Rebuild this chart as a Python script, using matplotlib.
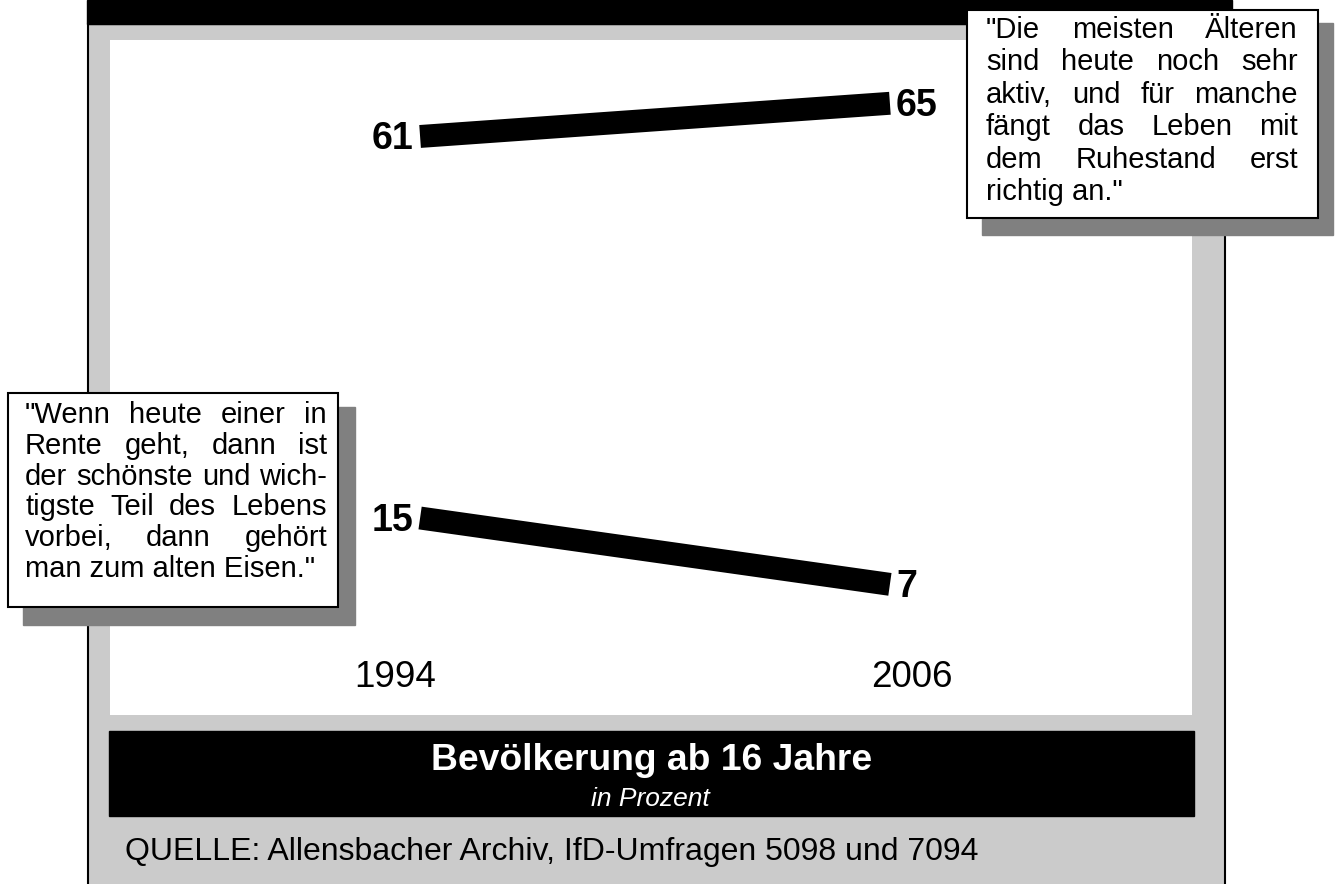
import numpy as np
import matplotlib
matplotlib.use('Agg')
from matplotlib import pyplot as plt
from matplotlib.patches import Rectangle

plt.rcParams['font.family'] = ['Liberation Sans', 'DejaVu Sans']

# Data: share of people who agree with each statement, in percent
years = ['1994', '2006']
aktiv = [61, 65]        # "Die meisten Älteren sind heute noch sehr aktiv ..."
altesEisen = [15, 7]    # "Wenn heute einer in Rente geht ..."

quoteAktiv = ['"Die meisten Älteren',
              'sind heute noch sehr',
              'aktiv, und für manche',
              'fängt das Leben mit',
              'dem Ruhestand erst',
              'richtig an."']
quoteEisen = ['"Wenn heute einer in',
              'Rente geht, dann ist',
              'der schönste und wich-',
              'tigste Teil des Lebens',
              'vorbei, dann gehört',
              'man zum alten Eisen."']

title = 'Bevölkerung ab 16 Jahre'
subtitle = 'in Prozent'
source = 'QUELLE: Allensbacher Archiv, IfD-Umfragen 5098 und 7094'

W, H = 1338, 884
fig = plt.figure(figsize=(W / 100, H / 100), dpi=100)


def pixelAxes(z):
    a = fig.add_axes([0, 0, 1, 1], zorder=z)
    a.set_xlim(0, W)
    a.set_ylim(H, 0)
    a.axis('off')
    return a


def box(a, x0, y0, x1, y1, **kw):
    a.add_patch(Rectangle((x0, y0), x1 - x0, y1 - y0, **kw))


# Frame behind the chart
bg = pixelAxes(0)
box(bg, 88, 24, 1225, H + 10, facecolor='#cbcbcb', edgecolor='black', lw=1.5)
box(bg, 87, 0, 1232, 24, color='black')
box(bg, 109, 731, 1194, 816, color='black')

# The chart itself
ax = fig.add_axes([110 / W, (H - 715) / H, (1192 - 110) / W, (715 - 40) / H], zorder=1)
ax.set_facecolor('white')
for s in ax.spines.values():
    s.set_visible(False)
ax.set_xticks([])
ax.set_yticks([])
ax.set_xlim(-0.66, 1.643)
ax.set_ylim(-8.75, 72.63)

x = np.arange(len(years))
for vals in (aktiv, altesEisen):
    ax.plot(x, vals, color='black', lw=16.5, solid_capstyle='butt')
    ax.annotate(str(vals[0]), (x[0], vals[0]), xytext=(-7, -13), textcoords='offset pixels',
                ha='right', va='baseline', fontsize=27, fontweight='bold')
    ax.annotate(str(vals[1]), (x[1], vals[1]), xytext=(6, -13), textcoords='offset pixels',
                ha='left', va='baseline', fontsize=27, fontweight='bold')

yearOffsets = [-25, 22]
for xi, yr, off in zip(x, years, yearOffsets):
    ax.annotate(yr, (xi, 0.0415), xycoords=('data', 'axes fraction'), xytext=(off, 0),
                textcoords='offset pixels', ha='center', va='baseline', fontsize=26.5)

# Quote boxes, title and source on top
ov = pixelAxes(3)
renderer = fig.canvas.get_renderer()


def justified(lines, x0, x1, y0, step, size):
    for i, line in enumerate(lines):
        y = y0 + i * step
        words = line.split()
        if i == len(lines) - 1 or len(words) == 1:
            ov.text(x0, y, line, fontsize=size, ha='left', va='baseline')
            continue
        arts = [ov.text(0, y, w, fontsize=size, ha='left', va='baseline') for w in words]
        widths = [t.get_window_extent(renderer).width for t in arts]
        gap = (x1 - x0 - sum(widths)) / (len(words) - 1)
        pos = x0
        for t, wd in zip(arts, widths):
            t.set_x(pos)
            pos += wd + gap


box(ov, 982, 23, 1333, 235, color='#808080')
box(ov, 967, 10, 1318, 218, facecolor='white', edgecolor='black', lw=1.5)
justified(quoteAktiv, 986, 1298, 38, 32.4, 21)

box(ov, 23, 407, 355, 625, color='#808080')
box(ov, 8, 393, 338, 607, facecolor='white', edgecolor='black', lw=1.5)
justified(quoteEisen, 25, 327, 423, 30.8, 21)

ov.text(652, 770, title, color='white', fontsize=26.8, fontweight='bold', ha='center', va='baseline')
ov.text(650, 806, subtitle, color='white', fontsize=19, fontstyle='italic', ha='center', va='baseline')
ov.text(125, 860, source, fontsize=23, ha='left', va='baseline')

fig.savefig('out.png', dpi=100)
